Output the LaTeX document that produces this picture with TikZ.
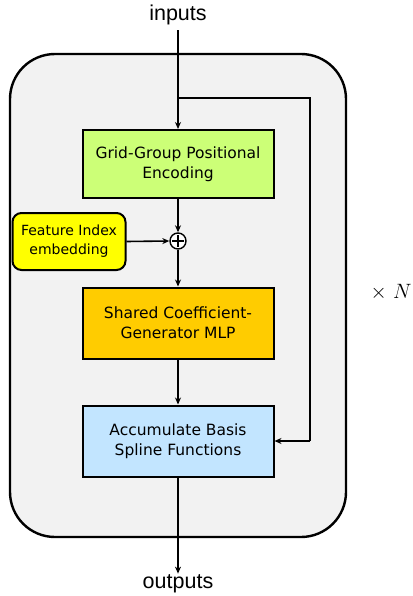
\documentclass[tikz,border=0pt]{standalone}
\usepackage{fontspec}
\usetikzlibrary{arrows.meta}
\setmainfont{DejaVu Sans}
\newfontfamily\lblfont{Liberation Sans}
\definecolor{gbox}{RGB}{204,255,119}
\definecolor{obox}{RGB}{255,204,0}
\definecolor{bbox}{RGB}{194,229,255}
\definecolor{ybox}{RGB}{255,255,0}
\definecolor{outer}{RGB}{242,242,242}
\begin{document}
\begin{tikzpicture}[x=1pt,y=-1pt,
  blk/.style={draw, line width=2pt, minimum width=191pt, align=center, inner sep=0pt, font=\fontsize{15.5}{20}\selectfont},
  arr/.style={-{Stealth[length=7pt,width=6pt]}, line width=1.6pt},
  lbl/.style={font=\lblfont\fontsize{21.5}{24}\selectfont, inner sep=1pt}]
\useasboundingbox (0,0) rectangle (412,596);
\draw[line width=2.4pt, fill=outer, rounded corners=45pt] (10,54) rectangle (346,537);
\node[lbl] (in) at (178,15) {inputs};
\node[lbl] (out) at (178,584) {outputs};
\node[blk, fill=gbox, minimum height=68pt] (grid) at (178,164) {Grid-Group Positional\\Encoding};
\node[blk, fill=obox, minimum height=71pt] (mlp) at (178,323) {Shared Coefficient-\\Generator MLP};
\node[blk, fill=bbox, minimum height=71pt] (acc) at (178,441) {Accumulate Basis\\Spline Functions};
\node[draw, line width=2pt, fill=ybox, rounded corners=9pt, minimum width=113pt, minimum height=57pt, inner sep=0pt, align=center, font=\fontsize{14}{19}\selectfont] (feat) at (69,241.5) {Feature Index\\embedding};
\node[draw, circle, line width=1.4pt, fill=white, minimum size=16pt, inner sep=0pt] (plus) at (178,241) {};
\draw[line width=1.2pt] ([yshift=-3pt]plus.north) -- ([yshift=3pt]plus.south) ([xshift=3pt]plus.west) -- ([xshift=-3pt]plus.east);
\coordinate (split) at (178,98);
\coordinate (c1) at (310,98);
\coordinate (c2) at (310,441);
\node[font=\fontsize{20}{22}\selectfont] (n) at (391,292) {$\times\ N$};
\draw[arr] ([yshift=-4pt]in.south) -- (grid.north);
\draw[line width=1.6pt] (split) -- (c1) -- (c2);
\draw[arr] (c2) -- (acc.east);
\draw[arr] (grid.south) -- (plus.north);
\draw[arr] (feat.east) -- (plus.west);
\draw[arr] (plus.south) -- (mlp.north);
\draw[arr] (mlp.south) -- (acc.north);
\draw[arr] (acc.south) -- (out.north);
\end{tikzpicture}
\end{document}
